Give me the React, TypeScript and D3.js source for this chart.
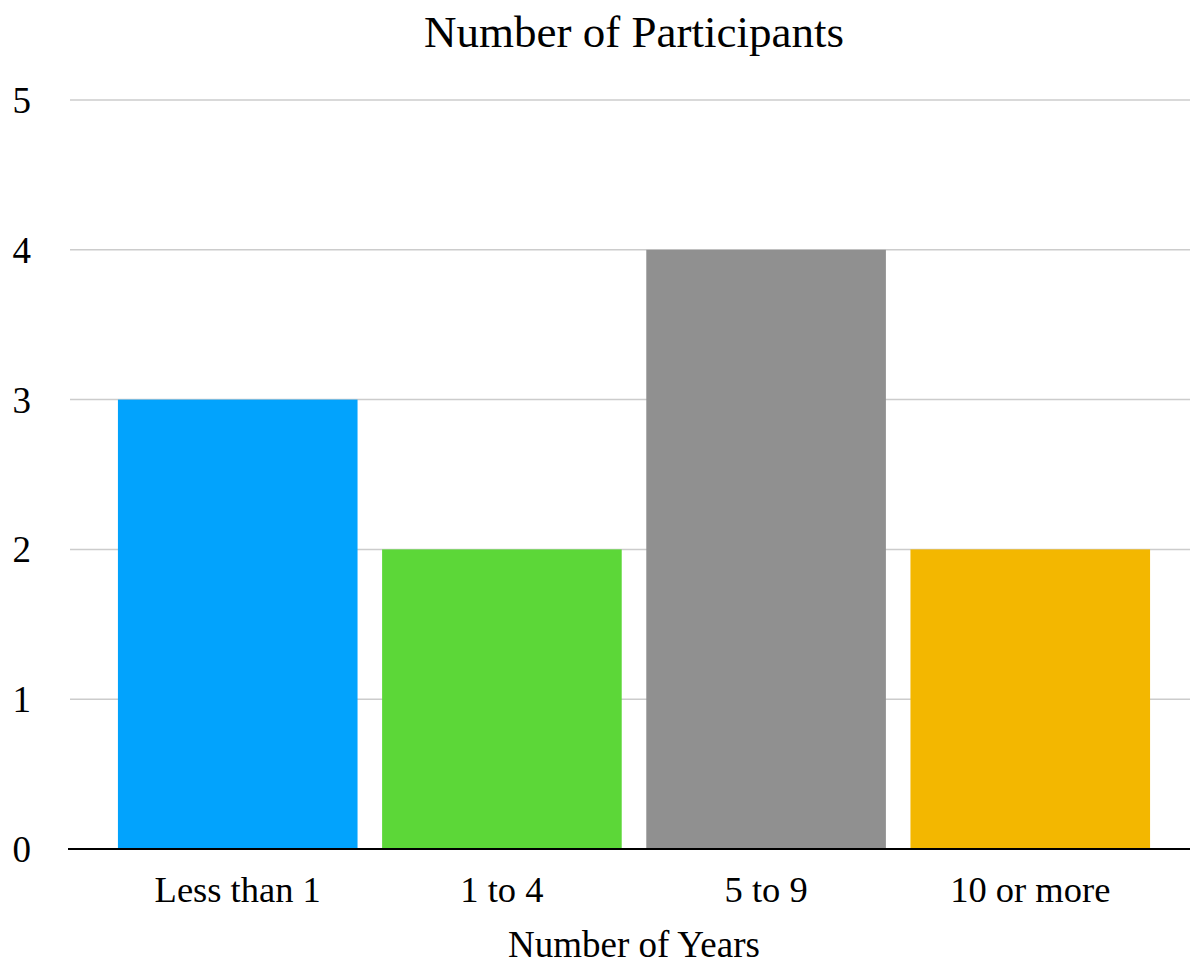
import React from "react";
import * as d3 from "d3";

const categories = ["Less than 1", "1 to 4", "5 to 9", "10 or more"];
const participants = [3, 2, 4, 2];
const barColors = ["#02a3fd", "#5cd738", "#909090", "#f3b700"];
const yTicks = [0, 1, 2, 3, 4, 5];

const W = 1190;
const H = 964;
const FONT = "'Liberation Serif', 'Times New Roman', serif";

export default function App() {
  const x = d3
    .scaleBand<string>()
    .domain(categories)
    .range([68, 1200])
    .paddingInner(0.093)
    .paddingOuter(0.189);
  const y = d3.scaleLinear().domain([0, 5]).range([849, 100]);

  return (
    <svg
      width={W}
      height={H}
      style={{ position: "absolute", left: 0, top: 0, background: "#fff" }}
    >
      <text
        x={634}
        y={47}
        textAnchor="middle"
        fontFamily={FONT}
        fontSize={45}
        fill="#000"
      >
        Number of Participants
      </text>
      {yTicks.map((t) => (
        <g key={t}>
          {t > 0 && (
            <line
              x1={70}
              x2={W}
              y1={y(t)}
              y2={y(t)}
              stroke="#cccccc"
              strokeWidth={1.5}
            />
          )}
          <text
            x={31}
            y={y(t) + 13}
            textAnchor="end"
            fontFamily={FONT}
            fontSize={37}
            fill="#000"
          >
            {t}
          </text>
        </g>
      ))}
      {categories.map((c, i) => (
        <g key={c}>
          <rect
            x={x(c)}
            y={y(participants[i])}
            width={x.bandwidth()}
            height={y(0) - y(participants[i])}
            fill={barColors[i]}
          />
          <text
            x={(x(c) as number) + x.bandwidth() / 2}
            y={902}
            textAnchor="middle"
            fontFamily={FONT}
            fontSize={36.5}
            fill="#000"
          >
            {c}
          </text>
        </g>
      ))}
      <line x1={68} x2={W} y1={y(0)} y2={y(0)} stroke="#000" strokeWidth={2} />
      <text
        x={634}
        y={957}
        textAnchor="middle"
        fontFamily={FONT}
        fontSize={37}
        fill="#000"
      >
        Number of Years
      </text>
    </svg>
  );
}
